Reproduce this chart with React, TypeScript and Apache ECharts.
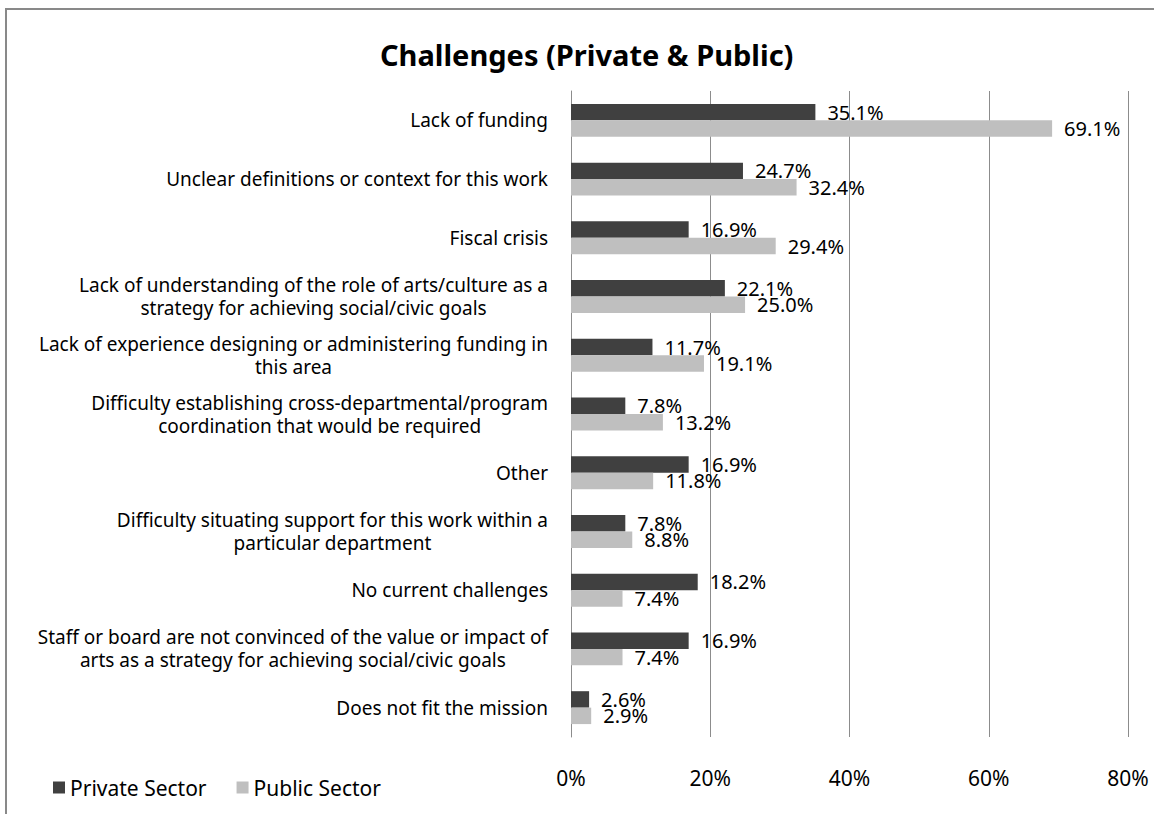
import React, { useEffect, useRef } from "react";
import * as echarts from "echarts";

const categories = [
  "Lack of funding",
  "Unclear definitions or context for this work",
  "Fiscal crisis",
  "Lack of understanding of the role of arts/culture as a\nstrategy for achieving social/civic goals",
  "Lack of experience designing or administering funding in\nthis area",
  "Difficulty establishing cross-departmental/program\ncoordination that would be required",
  "Other",
  "Difficulty situating support for this work within a\nparticular department",
  "No current challenges",
  "Staff or board are not convinced of the value or impact of\narts as a strategy for achieving social/civic goals",
  "Does not fit the mission",
];

const privateSector = [35.1, 24.7, 16.9, 22.1, 11.7, 7.8, 16.9, 7.8, 18.2, 16.9, 2.6];
const publicSector = [69.1, 32.4, 29.4, 25.0, 19.1, 13.2, 11.8, 8.8, 7.4, 7.4, 2.9];

const seriesNames = ["Private Sector", "Public Sector"];
const xTicks = { min: 0, max: 80, interval: 20 };

const FONT = "'Noto Sans', sans-serif";

export default function App() {
  const ref = useRef<HTMLDivElement>(null);

  useEffect(() => {
    document.body.style.margin = "0";
    if (!ref.current) return;
    const chart = echarts.init(ref.current, null, { renderer: "svg" });

    const labelStyle = {
      show: true,
      position: "right" as const,
      distance: 12,
      color: "#000",
      fontFamily: FONT,
      fontSize: 20,
      formatter: (p: any) => p.value.toFixed(1) + "%",
    };

    chart.setOption({
      animation: false,
      backgroundColor: "#fff",
      textStyle: { fontFamily: FONT },
      title: {
        text: "Challenges (Private & Public)",
        left: 375,
        top: 35,
        padding: 5,
        textStyle: { fontFamily: FONT, fontSize: 29, fontWeight: "bold", color: "#000" },
      },
      legend: {
        left: 48,
        top: 772,
        itemWidth: 12,
        itemHeight: 12,
        itemGap: 30,
        icon: "rect",
        data: seriesNames,
        textStyle: { fontFamily: FONT, fontSize: 21, color: "#000" },
      },
      grid: { left: 571, right: 26, top: 91, bottom: 77, containLabel: false },
      xAxis: {
        type: "value",
        min: xTicks.min,
        max: xTicks.max,
        interval: xTicks.interval,
        axisLine: { show: false },
        axisTick: { show: false },
        splitLine: { show: true, lineStyle: { color: "#8c8c8c", width: 1 } },
        axisLabel: {
          formatter: "{value}%",
          margin: 30,
          color: "#000",
          fontFamily: FONT,
          fontSize: 21,
        },
      },
      yAxis: {
        type: "category",
        inverse: true,
        data: categories,
        axisLine: { show: true, lineStyle: { color: "#8c8c8c", width: 1 } },
        axisTick: { show: false },
        axisLabel: {
          margin: 23,
          color: "#000",
          fontFamily: FONT,
          fontSize: 19,
          align: "right",
          lineHeight: 23,
          formatter: (v: string) =>
            v
              .split("\n")
              .map((l) => "{c|" + l + "}")
              .join("\n"),
          rich: {
            c: { align: "center", fontFamily: FONT, fontSize: 19, color: "#000", lineHeight: 23 },
          },
        },
      },
      series: [
        {
          name: seriesNames[0],
          type: "bar",
          data: privateSector,
          barGap: "0%",
          barCategoryGap: "44%",
          itemStyle: { color: "#404040" },
          label: labelStyle,
        },
        {
          name: seriesNames[1],
          type: "bar",
          data: publicSector,
          barGap: "0%",
          barCategoryGap: "44%",
          itemStyle: { color: "#bfbfbf" },
          label: labelStyle,
        },
      ],
      graphic: [
        {
          type: "rect",
          silent: true,
          shape: { x: 6, y: 9, width: 1170, height: 830 },
          style: { fill: "none", stroke: "#898989", lineWidth: 2 },
          z: 100,
        },
      ],
    });

    return () => chart.dispose();
  }, []);

  return <div ref={ref} style={{ width: 1154, height: 814 }} />;
}
